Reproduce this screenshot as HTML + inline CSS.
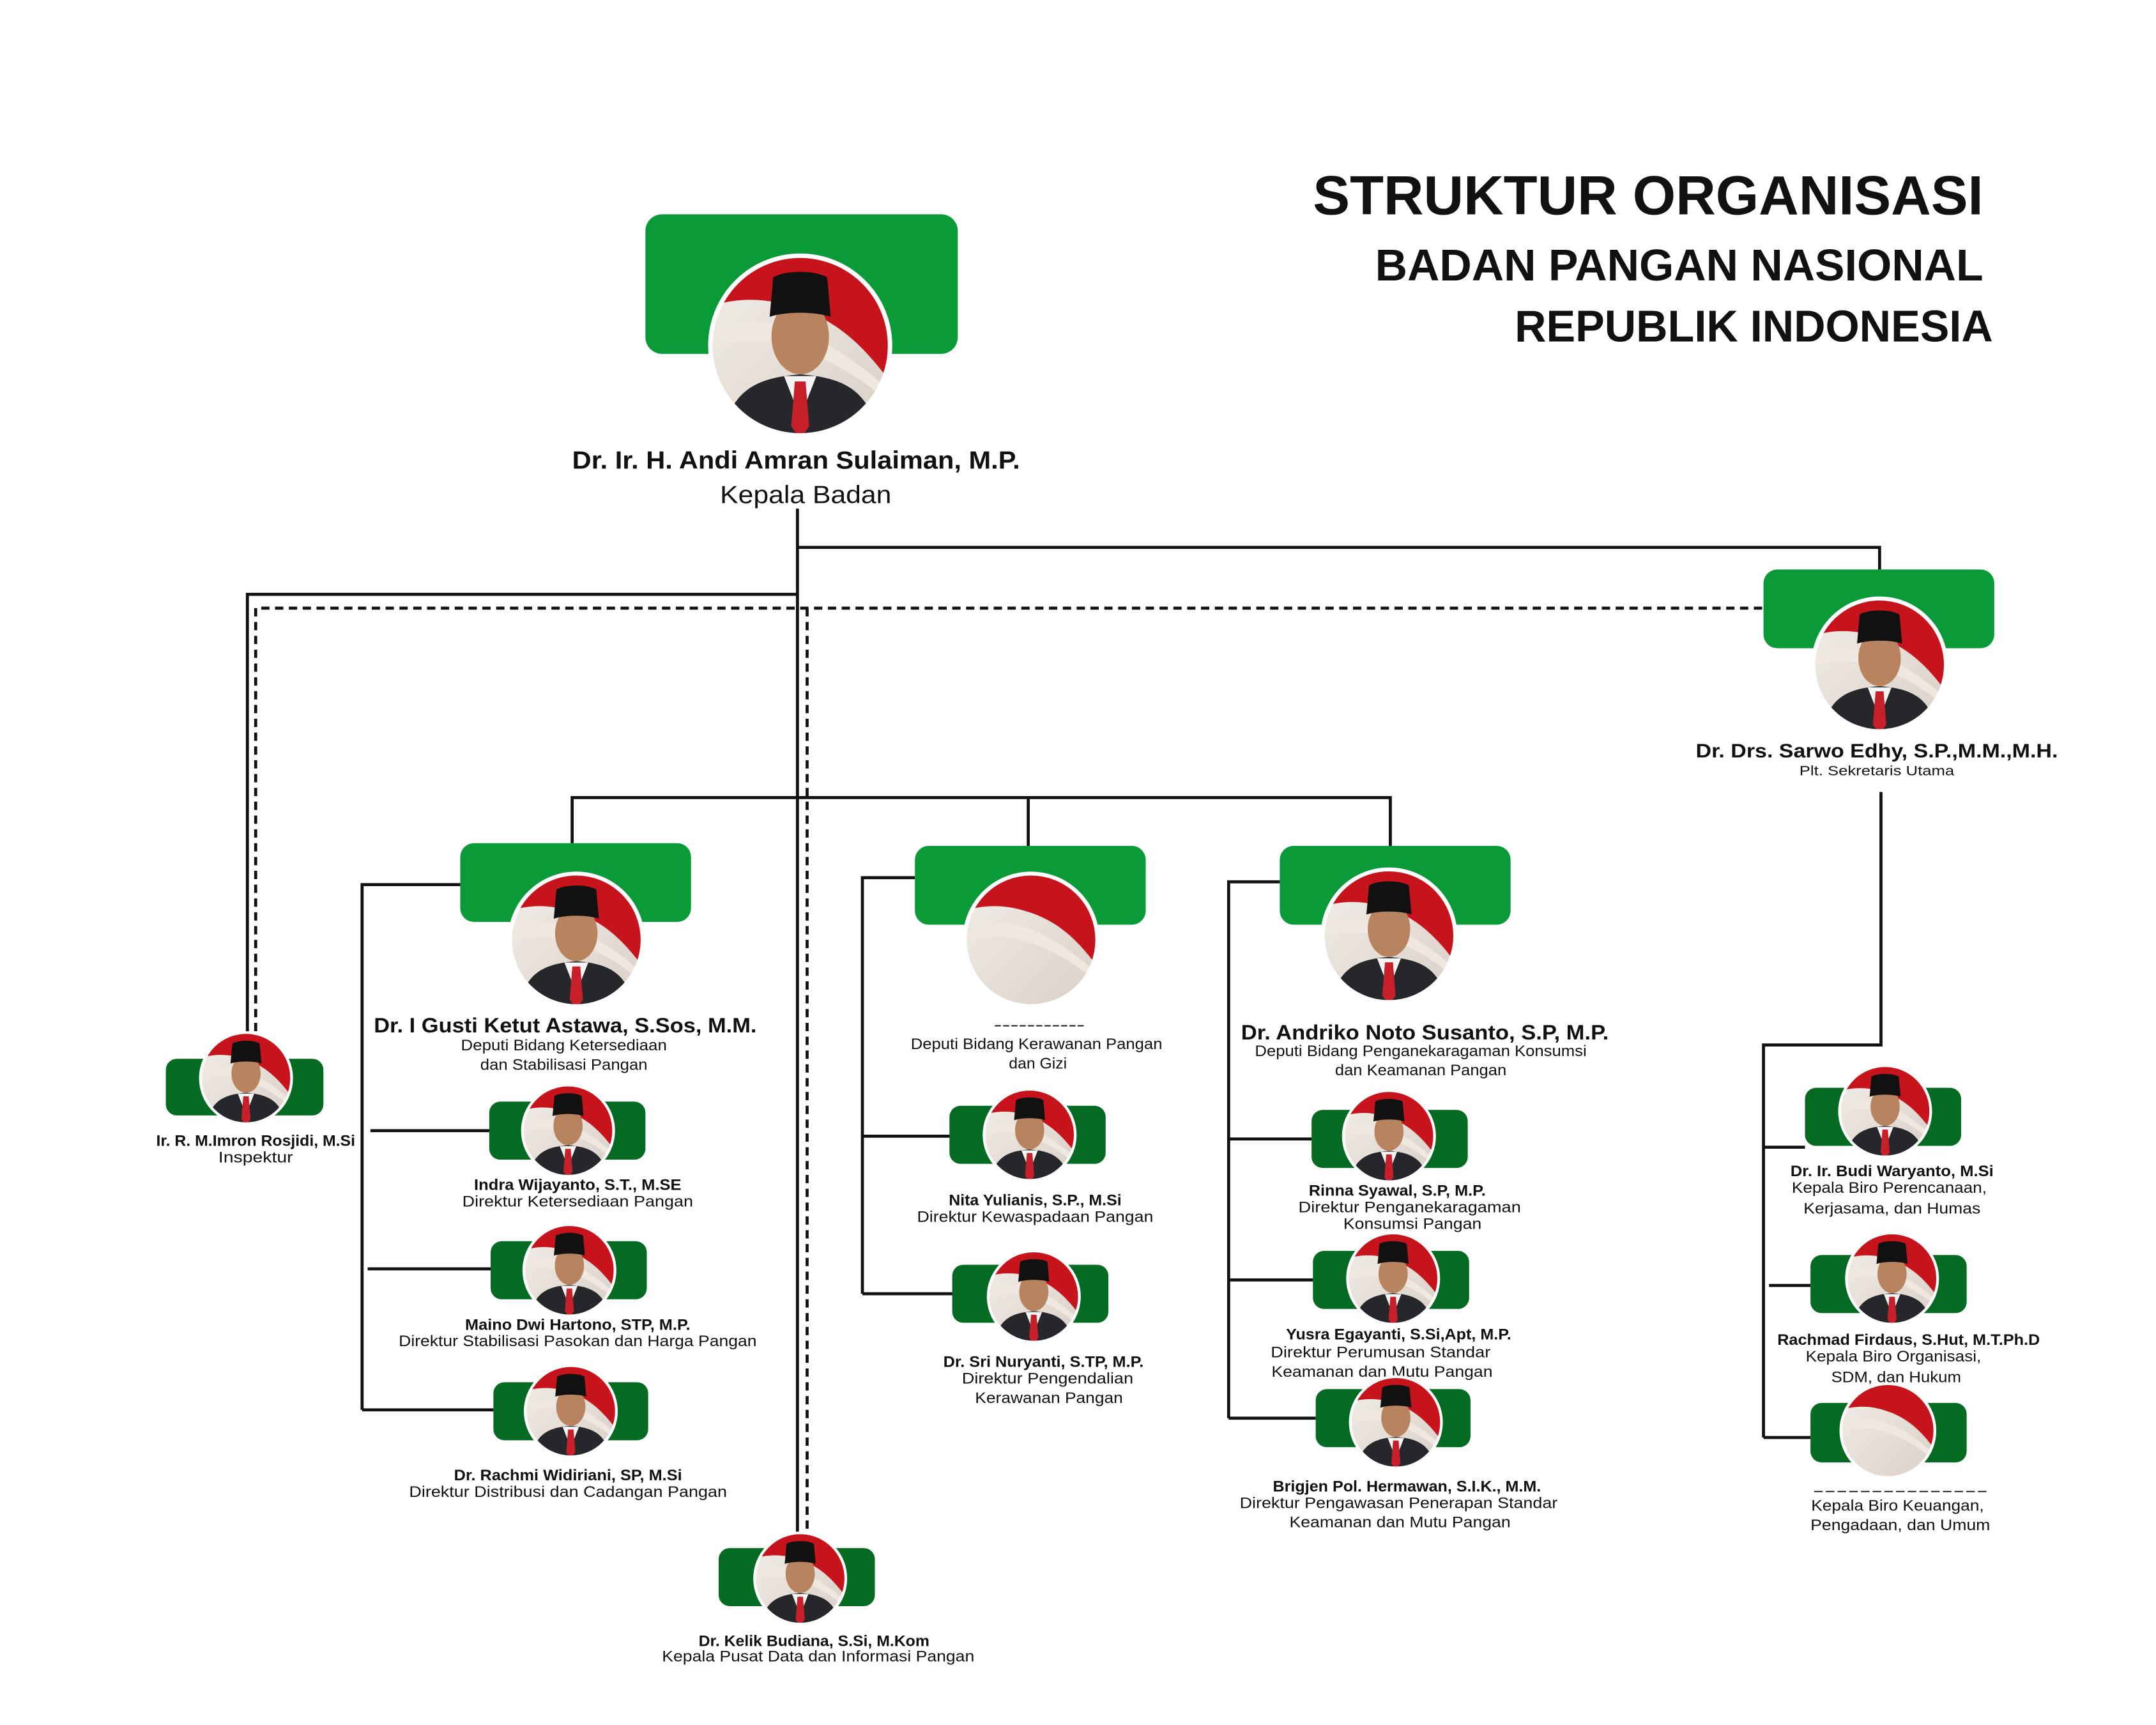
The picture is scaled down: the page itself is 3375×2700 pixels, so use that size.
<!DOCTYPE html>
<html><head><meta charset="utf-8"><style>
html,body{margin:0;padding:0;background:#fff;}
svg{display:block;}
text{font-family:"Liberation Sans",sans-serif;fill:#111;}
.b{font-weight:bold;}
</style></head><body>
<svg width="3375" height="2700" viewBox="0 0 1560 1248" xmlns="http://www.w3.org/2000/svg">
<defs>
<clipPath id="cc"><circle r="50"/></clipPath>
<linearGradient id="wg" x1="0" y1="0" x2="1" y2="1"><stop offset="0" stop-color="#f3eee9"/><stop offset="1" stop-color="#d9d0c7"/></linearGradient>
<symbol id="bg" viewBox="-50 -50 100 100" overflow="visible">
<g clip-path="url(#cc)">
<rect x="-50" y="-50" width="100" height="100" fill="url(#wg)"/>
<path d="M-50 -50 L50 -50 L50 20 C35 0 20 -15 -5 -22 C-25 -28 -40 -25 -50 -22 Z" fill="#c7141c"/>
<path d="M-50 -8 C-20 -20 10 -10 50 25 L50 32 C15 2 -20 -8 -50 0 Z" fill="#efe8e1"/>
</g></symbol>
<symbol id="p" viewBox="-50 -50 100 100" overflow="visible">
<use href="#bg" x="-50" y="-50" width="100" height="100"/>
<g clip-path="url(#cc)">
<path d="M-44 55 C-40 25 -25 18 0 16 C25 18 40 25 44 55 Z" fill="#26272b"/>
<path d="M-9 17 L0 40 L9 17 Z" fill="#f4f4f4"/>
<path d="M-3 20 L3 20 L5 45 L0 52 L-5 45 Z" fill="#c8202a"/>
<ellipse cx="0" cy="-5" rx="16" ry="21" fill="#b7845f"/>
<path d="M-17 -16 L-15 -38 C-8 -42 8 -42 15 -38 L17 -16 C8 -19 -8 -19 -17 -16 Z" fill="#111"/>
</g></symbol>
</defs>
<rect width="1560" height="1248" fill="#fff"/>

<!-- title -->
<text x="1435" y="155" text-anchor="end" class="b" font-size="40" textLength="485" lengthAdjust="spacingAndGlyphs">STRUKTUR ORGANISASI</text>
<text x="1435" y="203" text-anchor="end" class="b" font-size="32" textLength="440" lengthAdjust="spacingAndGlyphs">BADAN PANGAN NASIONAL</text>
<text x="1442" y="247" text-anchor="end" class="b" font-size="32" textLength="346" lengthAdjust="spacingAndGlyphs">REPUBLIK INDONESIA</text>

<!-- connectors -->
<g stroke="#111" stroke-width="2.2" fill="none">
<path d="M577 368 V1112"/>
<path d="M577 396 H1360 V412"/>
<path d="M577 430 H179 V750"/>
<path d="M414 610 V577 H1006 V612 M744 577 V612"/>
<path d="M333 640 H262 V1020 M268 818 H355 M266 918 H355 M262 1020 H357"/>
<path d="M662 635 H624 V936 M624 822 H688 M624 936 H690"/>
<path d="M926 638 H889 V1026 M889 824 H950 M889 926 H950 M889 1026 H952"/>
<path d="M1361 573 V756 H1276 V1040 M1276 830 H1306 M1280 930 H1310 M1276 1040 H1310"/>
<path d="M1275 440 H185 V750 M584 440 V1112" stroke-dasharray="6 4"/>
</g>

<!-- head -->
<rect x="467" y="155" width="226" height="101" rx="12" fill="#0a9b38"/>
<g transform="translate(579,250) scale(1.3)"><use href="#p" x="-50" y="-50" width="100" height="100"/><circle r="50" fill="none" stroke="#fff" stroke-width="2.5"/></g>
<text x="576" y="339" text-anchor="middle" class="b" font-size="18" textLength="324" lengthAdjust="spacingAndGlyphs">Dr. Ir. H. Andi Amran Sulaiman, M.P.</text>
<text x="583" y="364" text-anchor="middle" font-size="18" textLength="124" lengthAdjust="spacingAndGlyphs">Kepala Badan</text>

<!-- sekretaris -->
<rect x="1276" y="412" width="167" height="57" rx="10" fill="#0a9b38"/>
<g transform="translate(1360,481) scale(0.96)"><use href="#p" x="-50" y="-50" width="100" height="100"/><circle r="50" fill="none" stroke="#fff" stroke-width="3"/></g>
<text x="1358" y="548" text-anchor="middle" class="b" font-size="14" textLength="262" lengthAdjust="spacingAndGlyphs">Dr. Drs. Sarwo Edhy, S.P.,M.M.,M.H.</text>
<text x="1358" y="561" text-anchor="middle" font-size="10" textLength="112" lengthAdjust="spacingAndGlyphs">Plt. Sekretaris Utama</text>

<!-- deputies -->
<rect x="333" y="610" width="167" height="57" rx="10" fill="#0a9b38"/>
<g transform="translate(417,680) scale(0.96)"><use href="#p" x="-50" y="-50" width="100" height="100"/><circle r="50" fill="none" stroke="#fff" stroke-width="3"/></g>
<text x="409" y="747" text-anchor="middle" class="b" font-size="15" textLength="277" lengthAdjust="spacingAndGlyphs">Dr. I Gusti Ketut Astawa, S.Sos, M.M.</text>
<text x="408" y="760" text-anchor="middle" font-size="11" textLength="149" lengthAdjust="spacingAndGlyphs">Deputi Bidang Ketersediaan</text>
<text x="408" y="774" text-anchor="middle" font-size="11" textLength="121" lengthAdjust="spacingAndGlyphs">dan Stabilisasi Pangan</text>

<rect x="662" y="612" width="167" height="57" rx="10" fill="#0a9b38"/>
<g transform="translate(746,680) scale(0.96)"><use href="#bg" x="-50" y="-50" width="100" height="100"/><circle r="50" fill="none" stroke="#fff" stroke-width="3"/></g>
<text x="752" y="745" text-anchor="middle" font-size="11" textLength="66" lengthAdjust="spacingAndGlyphs">-----------</text>
<text x="750" y="759" text-anchor="middle" font-size="11" textLength="182" lengthAdjust="spacingAndGlyphs">Deputi Bidang Kerawanan Pangan</text>
<text x="751" y="773" text-anchor="middle" font-size="11" textLength="42" lengthAdjust="spacingAndGlyphs">dan Gizi</text>

<rect x="926" y="612" width="167" height="57" rx="10" fill="#0a9b38"/>
<g transform="translate(1005,677) scale(0.96)"><use href="#p" x="-50" y="-50" width="100" height="100"/><circle r="50" fill="none" stroke="#fff" stroke-width="3"/></g>
<text x="1031" y="752" text-anchor="middle" class="b" font-size="15" textLength="266" lengthAdjust="spacingAndGlyphs">Dr. Andriko Noto Susanto, S.P, M.P.</text>
<text x="1028" y="764" text-anchor="middle" font-size="11" textLength="240" lengthAdjust="spacingAndGlyphs">Deputi Bidang Penganekaragaman Konsumsi</text>
<text x="1028" y="778" text-anchor="middle" font-size="11" textLength="124" lengthAdjust="spacingAndGlyphs">dan Keamanan Pangan</text>

<!-- small nodes -->
<g id="small">
<!-- Inspektur -->
<rect x="120" y="766" width="114" height="41" rx="8" fill="#056b22"/>
<g transform="translate(178,780) scale(0.66)"><use href="#p" x="-50" y="-50" width="100" height="100"/><circle r="50" fill="none" stroke="#fff" stroke-width="3"/></g>
<text x="185" y="829" text-anchor="middle" class="b" font-size="11" textLength="144" lengthAdjust="spacingAndGlyphs">Ir. R. M.Imron Rosjidi, M.Si</text>
<text x="185" y="841" text-anchor="middle" font-size="11" textLength="54" lengthAdjust="spacingAndGlyphs">Inspektur</text>

<!-- deputy1 children -->
<rect x="354" y="797" width="113" height="42" rx="8" fill="#056b22"/>
<g transform="translate(411,818) scale(0.66)"><use href="#p" x="-50" y="-50" width="100" height="100"/><circle r="50" fill="none" stroke="#fff" stroke-width="3"/></g>
<text x="418" y="861" text-anchor="middle" class="b" font-size="11" textLength="150" lengthAdjust="spacingAndGlyphs">Indra Wijayanto, S.T., M.SE</text>
<text x="418" y="873" text-anchor="middle" font-size="11" textLength="167" lengthAdjust="spacingAndGlyphs">Direktur Ketersediaan Pangan</text>

<rect x="355" y="898" width="113" height="42" rx="8" fill="#056b22"/>
<g transform="translate(412,919) scale(0.66)"><use href="#p" x="-50" y="-50" width="100" height="100"/><circle r="50" fill="none" stroke="#fff" stroke-width="3"/></g>
<text x="418" y="962" text-anchor="middle" class="b" font-size="11" textLength="163" lengthAdjust="spacingAndGlyphs">Maino Dwi Hartono, STP, M.P.</text>
<text x="418" y="974" text-anchor="middle" font-size="11" textLength="259" lengthAdjust="spacingAndGlyphs">Direktur Stabilisasi Pasokan dan Harga Pangan</text>

<rect x="357" y="1000" width="112" height="42" rx="8" fill="#056b22"/>
<g transform="translate(413,1021) scale(0.66)"><use href="#p" x="-50" y="-50" width="100" height="100"/><circle r="50" fill="none" stroke="#fff" stroke-width="3"/></g>
<text x="411" y="1071" text-anchor="middle" class="b" font-size="11" textLength="165" lengthAdjust="spacingAndGlyphs">Dr. Rachmi Widiriani, SP, M.Si</text>
<text x="411" y="1083" text-anchor="middle" font-size="11" textLength="230" lengthAdjust="spacingAndGlyphs">Direktur Distribusi dan Cadangan Pangan</text>

<!-- deputy2 children -->
<rect x="687" y="800" width="113" height="42" rx="8" fill="#056b22"/>
<g transform="translate(745,821) scale(0.66)"><use href="#p" x="-50" y="-50" width="100" height="100"/><circle r="50" fill="none" stroke="#fff" stroke-width="3"/></g>
<text x="749" y="872" text-anchor="middle" class="b" font-size="11" textLength="125" lengthAdjust="spacingAndGlyphs">Nita Yulianis, S.P., M.Si</text>
<text x="749" y="884" text-anchor="middle" font-size="11" textLength="171" lengthAdjust="spacingAndGlyphs">Direktur Kewaspadaan Pangan</text>

<rect x="689" y="915" width="113" height="42" rx="8" fill="#056b22"/>
<g transform="translate(748,938) scale(0.66)"><use href="#p" x="-50" y="-50" width="100" height="100"/><circle r="50" fill="none" stroke="#fff" stroke-width="3"/></g>
<text x="755" y="989" text-anchor="middle" class="b" font-size="11" textLength="145" lengthAdjust="spacingAndGlyphs">Dr. Sri Nuryanti, S.TP, M.P.</text>
<text x="758" y="1001" text-anchor="middle" font-size="11" textLength="124" lengthAdjust="spacingAndGlyphs">Direktur Pengendalian</text>
<text x="759" y="1015" text-anchor="middle" font-size="11" textLength="107" lengthAdjust="spacingAndGlyphs">Kerawanan Pangan</text>

<!-- deputy3 children -->
<rect x="949" y="803" width="113" height="42" rx="8" fill="#056b22"/>
<g transform="translate(1005,822) scale(0.66)"><use href="#p" x="-50" y="-50" width="100" height="100"/><circle r="50" fill="none" stroke="#fff" stroke-width="3"/></g>
<text x="1011" y="865" text-anchor="middle" class="b" font-size="11" textLength="128" lengthAdjust="spacingAndGlyphs">Rinna Syawal, S.P, M.P.</text>
<text x="1020" y="877" text-anchor="middle" font-size="11" textLength="161" lengthAdjust="spacingAndGlyphs">Direktur Penganekaragaman</text>
<text x="1022" y="889" text-anchor="middle" font-size="11" textLength="100" lengthAdjust="spacingAndGlyphs">Konsumsi Pangan</text>

<rect x="950" y="905" width="113" height="42" rx="8" fill="#056b22"/>
<g transform="translate(1008,925) scale(0.66)"><use href="#p" x="-50" y="-50" width="100" height="100"/><circle r="50" fill="none" stroke="#fff" stroke-width="3"/></g>
<text x="1012" y="969" text-anchor="middle" class="b" font-size="11" textLength="163" lengthAdjust="spacingAndGlyphs">Yusra Egayanti, S.Si,Apt, M.P.</text>
<text x="999" y="982" text-anchor="middle" font-size="11" textLength="159" lengthAdjust="spacingAndGlyphs">Direktur Perumusan Standar</text>
<text x="1000" y="996" text-anchor="middle" font-size="11" textLength="160" lengthAdjust="spacingAndGlyphs">Keamanan dan Mutu Pangan</text>

<rect x="952" y="1005" width="112" height="42" rx="8" fill="#056b22"/>
<g transform="translate(1010,1029) scale(0.66)"><use href="#p" x="-50" y="-50" width="100" height="100"/><circle r="50" fill="none" stroke="#fff" stroke-width="3"/></g>
<text x="1018" y="1079" text-anchor="middle" class="b" font-size="11" textLength="194" lengthAdjust="spacingAndGlyphs">Brigjen Pol. Hermawan, S.I.K., M.M.</text>
<text x="1012" y="1091" text-anchor="middle" font-size="11" textLength="230" lengthAdjust="spacingAndGlyphs">Direktur Pengawasan Penerapan Standar</text>
<text x="1013" y="1105" text-anchor="middle" font-size="11" textLength="160" lengthAdjust="spacingAndGlyphs">Keamanan dan Mutu Pangan</text>

<!-- Kelik -->
<rect x="520" y="1120" width="113" height="42" rx="8" fill="#056b22"/>
<g transform="translate(579,1142) scale(0.66)"><use href="#p" x="-50" y="-50" width="100" height="100"/><circle r="50" fill="none" stroke="#fff" stroke-width="3"/></g>
<text x="589" y="1191" text-anchor="middle" class="b" font-size="11" textLength="167" lengthAdjust="spacingAndGlyphs">Dr. Kelik Budiana, S.Si, M.Kom</text>
<text x="592" y="1202" text-anchor="middle" font-size="11" textLength="226" lengthAdjust="spacingAndGlyphs">Kepala Pusat Data dan Informasi Pangan</text>

<!-- sekretaris children -->
<rect x="1306" y="787" width="113" height="42" rx="8" fill="#056b22"/>
<g transform="translate(1364,804) scale(0.66)"><use href="#p" x="-50" y="-50" width="100" height="100"/><circle r="50" fill="none" stroke="#fff" stroke-width="3"/></g>
<text x="1369" y="851" text-anchor="middle" class="b" font-size="11" textLength="147" lengthAdjust="spacingAndGlyphs">Dr. Ir. Budi Waryanto, M.Si</text>
<text x="1367" y="863" text-anchor="middle" font-size="11" textLength="141" lengthAdjust="spacingAndGlyphs">Kepala Biro Perencanaan,</text>
<text x="1369" y="878" text-anchor="middle" font-size="11" textLength="128" lengthAdjust="spacingAndGlyphs">Kerjasama, dan Humas</text>

<rect x="1310" y="908" width="113" height="42" rx="8" fill="#056b22"/>
<g transform="translate(1369,925) scale(0.66)"><use href="#p" x="-50" y="-50" width="100" height="100"/><circle r="50" fill="none" stroke="#fff" stroke-width="3"/></g>
<text x="1381" y="973" text-anchor="middle" class="b" font-size="11" textLength="190" lengthAdjust="spacingAndGlyphs">Rachmad Firdaus, S.Hut, M.T.Ph.D</text>
<text x="1370" y="985" text-anchor="middle" font-size="11" textLength="127" lengthAdjust="spacingAndGlyphs">Kepala Biro Organisasi,</text>
<text x="1372" y="1000" text-anchor="middle" font-size="11" textLength="94" lengthAdjust="spacingAndGlyphs">SDM, dan Hukum</text>

<rect x="1310" y="1015" width="113" height="43" rx="8" fill="#056b22"/>
<g transform="translate(1366,1035) scale(0.68)"><use href="#bg" x="-50" y="-50" width="100" height="100"/><circle r="50" fill="none" stroke="#fff" stroke-width="3"/></g>
<text x="1375" y="1082" text-anchor="middle" font-size="11" textLength="127" lengthAdjust="spacingAndGlyphs">---------------</text>
<text x="1373" y="1093" text-anchor="middle" font-size="11" textLength="125" lengthAdjust="spacingAndGlyphs">Kepala Biro Keuangan,</text>
<text x="1375" y="1107" text-anchor="middle" font-size="11" textLength="130" lengthAdjust="spacingAndGlyphs">Pengadaan, dan Umum</text>
</g>
</svg>
</body></html>
